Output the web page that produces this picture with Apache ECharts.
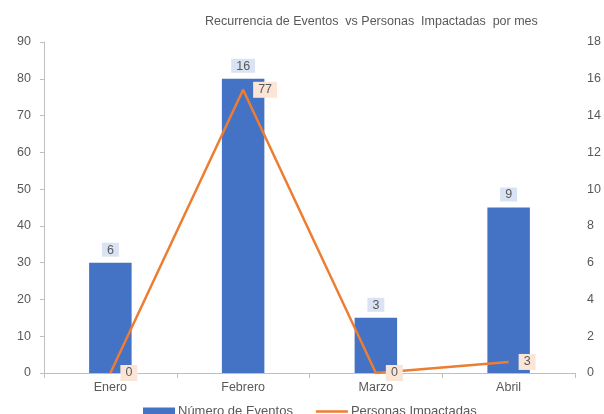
<!DOCTYPE html>
<html><head><meta charset="utf-8">
<script src="https://cdn.jsdelivr.net/npm/echarts@6/dist/echarts.min.js"></script>
<style>html,body{margin:0;padding:0;background:#fff}#c{width:604px;height:414px}</style>
</head><body><div id="c"></div>
<script>
const categories = ['Enero', 'Febrero', 'Marzo', 'Abril'];
const eventos = [6, 16, 3, 9];
const personas = [0, 77, 0, 3];
const titleText = 'Recurrencia de Eventos  vs Personas  Impactadas  por mes';
const seriesNames = ['Número de Eventos', 'Personas Impactadas'];

const gray = '#595959';
const chart = echarts.init(document.getElementById('c'), null, {renderer: 'canvas'});
chart.setOption({
  animation: false,
  textStyle: {fontFamily: 'Liberation Sans, Arial, sans-serif'},
  title: {
    text: titleText, left: 200, top: 10,
    textStyle: {fontSize: 12.5, fontWeight: 'normal', color: gray}
  },
  legend: {
    bottom: -9, left: 138, itemGap: 23, itemWidth: 32, itemHeight: 8,
    textStyle: {fontSize: 13, color: gray, padding: [0, 0, 0, -2]},
    data: [
      {name: seriesNames[0], icon: 'rect'},
      {name: seriesNames[1], icon: 'path://M0,0 L32,0 L32,2.5 L0,2.5 Z'}
    ]
  },
  grid: {left: 44, right: 29, top: 42, bottom: 41},
  xAxis: {
    type: 'category', data: categories,
    axisLine: {lineStyle: {color: '#bfbfbf'}},
    axisTick: {show: true, alignWithLabel: false, lineStyle: {color: '#bfbfbf'}, length: 5},
    axisLabel: {color: gray, fontSize: 12.5, margin: 8}
  },
  yAxis: [
    {
      type: 'value', min: 0, max: 90, interval: 10, position: 'left',
      axisLine: {show: true, lineStyle: {color: '#bfbfbf'}},
      axisTick: {show: true, length: 4, lineStyle: {color: '#bfbfbf'}},
      axisLabel: {color: gray, fontSize: 12.5, margin: 13},
      splitLine: {show: false}
    },
    {
      type: 'value', min: 0, max: 18, interval: 2, position: 'right',
      axisLine: {show: false}, axisTick: {show: false},
      axisLabel: {color: gray, fontSize: 12.5, margin: 12},
      splitLine: {show: false}
    }
  ],
  series: [
    {
      name: seriesNames[0], type: 'bar', yAxisIndex: 1, data: eventos,
      barWidth: '32%',
      itemStyle: {color: '#4472C4'},
      label: {
        show: true, position: 'top', distance: 6, color: gray, fontSize: 12.5,
        backgroundColor: '#dae3f3', padding: [1, 5, 0, 5]
      }
    },
    {
      name: seriesNames[1], type: 'line', yAxisIndex: 0, data: personas,
      symbol: 'circle', symbolSize: 0, showSymbol: true,
      lineStyle: {color: '#ED7D31', width: 2.5},
      itemStyle: {color: '#ED7D31'},
      label: {
        show: true, position: 'right', distance: 10, color: gray, fontSize: 12.5,
        backgroundColor: '#fbe5d6', padding: [2, 5, 1, 5]
      }
    }
  ]
});
</script></body></html>
